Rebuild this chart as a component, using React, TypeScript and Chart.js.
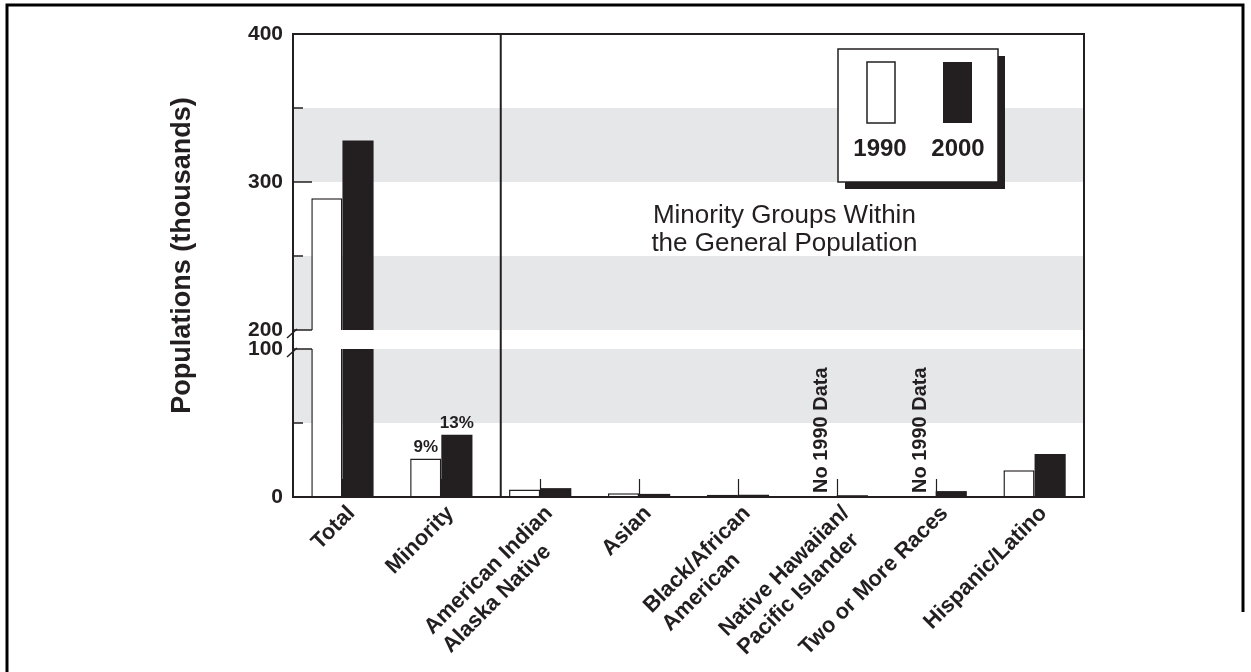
import React, { useEffect, useRef } from 'react';
import { Chart, registerables } from 'chart.js';

Chart.register(...registerables);

// ---------- data ----------
const categories: string[][] = [
  ['Total'],
  ['Minority'],
  ['American Indian', 'Alaska Native'],
  ['Asian'],
  ['Black/African', 'American'],
  ['Native Hawaiian/', 'Pacific Islander'],
  ['Two or More Races'],
  ['Hispanic/Latino'],
];
const seriesNames = ['1990', '2000'];
const values1990: (number | null)[] = [289, 26, 5, 2.5, 1.5, null, null, 18];
const values2000: (number | null)[] = [328, 42, 6, 2.1, 1.6, 1.2, 4, 29];
const percent1990: (string | null)[] = [null, '9%', null, null, null, null, null, null];
const percent2000: (string | null)[] = [null, '13%', null, null, null, null, null, null];
const noDataText = 'No 1990 Data';
const yTickValues = [0, 100, 200, 300, 400];
const yMinorTicks = [50, 250, 350];
const yMajorTicks = [100, 200, 300];
const shadedBands: [number, number][] = [[50, 100], [200, 250], [300, 350]];
const breakLow = 100;
const breakHigh = 200;
const yMaxValue = 400;
const annotationLines = ['Minority Groups Within', 'the General Population'];
const yTitle = 'Populations (thousands)';

// ---------- styles ----------
const DARK = '#231f20';
const GRAY = '#e6e7e8';
const FONT = '"Liberation Sans", Arial, Helvetica, sans-serif';
const GAP_UNITS = 12.84; // visual gap of the axis break, in display units

const toDisp = (v: number) => (v <= breakLow ? v : v - breakHigh + breakLow + GAP_UNITS);

const decorPlugin = {
  id: 'decor',
  beforeDatasetsDraw(chart: any) {
    const { ctx, chartArea: a, scales } = chart;
    const x = scales.x;
    const y = scales.y;
    ctx.save();
    ctx.fillStyle = GRAY;
    shadedBands.forEach(([lo, hi]) => {
      const top = y.getPixelForValue(toDisp(hi));
      const bot = y.getPixelForValue(toDisp(lo));
      ctx.fillRect(a.left, top, a.right - a.left, bot - top);
    });
    ctx.strokeStyle = DARK;
    ctx.lineWidth = 1.2;
    categories.forEach((_, i) => {
      const px = Math.round(x.getPixelForValue(i)) + 0.5;
      ctx.beginPath();
      ctx.moveTo(px, a.bottom);
      ctx.lineTo(px, a.bottom - 18);
      ctx.stroke();
    });
    ctx.restore();
  },
  afterDatasetsDraw(chart: any) {
    const { ctx, chartArea: a, scales } = chart;
    const x = scales.x;
    const y = scales.y;
    ctx.save();

    // axis break gap
    const gTop = y.getPixelForValue(toDisp(breakHigh));
    const gBot = y.getPixelForValue(toDisp(breakLow));
    ctx.fillStyle = '#ffffff';
    ctx.fillRect(a.left, gTop, a.right - a.left, gBot - gTop);

    // plot frame
    ctx.strokeStyle = DARK;
    ctx.lineWidth = 2;
    ctx.strokeRect(a.left, a.top, a.right - a.left, a.bottom - a.top);

    // divider between totals and groups
    const divX = (x.getPixelForValue(1) + x.getPixelForValue(2)) / 2 + 10;
    ctx.beginPath();
    ctx.moveTo(divX, a.top);
    ctx.lineTo(divX, a.bottom);
    ctx.stroke();

    // inner y ticks
    ctx.lineWidth = 1.5;
    yMinorTicks.forEach((v) => {
      const py = y.getPixelForValue(toDisp(v));
      ctx.beginPath();
      ctx.moveTo(a.left, py);
      ctx.lineTo(a.left + 10, py);
      ctx.stroke();
    });
    yMajorTicks.forEach((v) => {
      const py = y.getPixelForValue(toDisp(v));
      ctx.beginPath();
      ctx.moveTo(a.left, py);
      ctx.lineTo(a.left + 19, py);
      ctx.stroke();
    });
    [breakLow, breakHigh].forEach((v) => {
      const py = y.getPixelForValue(toDisp(v));
      ctx.beginPath();
      ctx.moveTo(a.left - 6, py + 8);
      ctx.lineTo(a.left + 4, py - 1);
      ctx.stroke();
    });

    // percentage labels
    ctx.fillStyle = DARK;
    ctx.font = `bold 17px ${FONT}`;
    ctx.textAlign = 'center';
    ctx.textBaseline = 'bottom';
    [percent1990, percent2000].forEach((labels, di) => {
      const meta = chart.getDatasetMeta(di);
      labels.forEach((t, i) => {
        if (!t) return;
        const el = meta.data[i];
        ctx.fillText(t, el.x, el.y - 3);
      });
    });

    // "No 1990 Data" labels
    ctx.font = `bold 20px ${FONT}`;
    ctx.textAlign = 'left';
    ctx.textBaseline = 'middle';
    values1990.forEach((v, i) => {
      if (v !== null) return;
      const px = x.getPixelForValue(i) - 15;
      ctx.save();
      ctx.translate(px, a.bottom - 4);
      ctx.rotate(-Math.PI / 2);
      ctx.fillText(noDataText, 0, 0);
      ctx.restore();
    });

    // annotation
    ctx.font = `26px ${FONT}`;
    ctx.textAlign = 'center';
    ctx.textBaseline = 'middle';
    const annX = (divX + a.right) / 2 - 8;
    annotationLines.forEach((t, i) => {
      ctx.fillText(t, annX, a.top + 182 + i * 28);
    });

    // legend box
    const bx = a.right - 246;
    const by = a.top + 15;
    const bw = 160;
    const bh = 133;
    ctx.fillStyle = DARK;
    ctx.fillRect(bx + 7, by + 7, bw, bh);
    ctx.fillStyle = '#ffffff';
    ctx.fillRect(bx, by, bw, bh);
    ctx.lineWidth = 1.5;
    ctx.strokeStyle = DARK;
    ctx.strokeRect(bx, by, bw, bh);
    const swX = [29, 105];
    const txX = [42, 120];
    seriesNames.forEach((name, i) => {
      if (i === 0) {
        ctx.fillStyle = '#ffffff';
        ctx.fillRect(bx + swX[i], by + 13, 28, 61);
        ctx.strokeRect(bx + swX[i], by + 13, 28, 61);
      } else {
        ctx.fillStyle = DARK;
        ctx.fillRect(bx + swX[i], by + 13, 29, 61);
      }
      ctx.fillStyle = DARK;
      ctx.font = `bold 24px ${FONT}`;
      ctx.textAlign = 'center';
      ctx.textBaseline = 'middle';
      ctx.fillText(name, bx + txX[i], by + 100);
    });

    // x category labels
    ctx.fillStyle = DARK;
    ctx.font = `bold 22px ${FONT}`;
    ctx.textBaseline = 'middle';
    categories.forEach((lines, i) => {
      const px = x.getPixelForValue(i);
      ctx.save();
      ctx.translate(px + 9, a.bottom + 13);
      ctx.rotate(-Math.PI / 4);
      const w1 = ctx.measureText(lines[0]).width;
      ctx.textAlign = 'right';
      ctx.fillText(lines[0], 0, 0);
      ctx.textAlign = 'left';
      for (let j = 1; j < lines.length; j++) {
        ctx.fillText(lines[j], -w1, j * 26);
      }
      ctx.restore();
    });

    // y title
    ctx.save();
    ctx.font = `bold 27px ${FONT}`;
    ctx.textAlign = 'center';
    ctx.textBaseline = 'middle';
    ctx.translate(a.left - 110, (a.top + a.bottom) / 2 - 10);
    ctx.rotate(-Math.PI / 2);
    ctx.fillText(yTitle, 0, 0);
    ctx.restore();

    // outer page frame
    ctx.strokeStyle = '#000000';
    ctx.lineWidth = 3;
    ctx.beginPath();
    ctx.moveTo(7, 672);
    ctx.lineTo(7, 5);
    ctx.lineTo(1243, 5);
    ctx.lineTo(1243, 612);
    ctx.stroke();

    ctx.restore();
  },
};

export default function App() {
  const canvasRef = useRef<HTMLCanvasElement | null>(null);

  useEffect(() => {
    const canvas = canvasRef.current;
    if (!canvas) return;
    const chart = new Chart(canvas, {
      type: 'bar',
      data: {
        labels: categories.map((c) => c.join(' ')),
        datasets: [
          {
            label: seriesNames[0],
            data: values1990.map((v) => (v === null ? null : toDisp(v))),
            backgroundColor: '#ffffff',
            borderColor: DARK,
            borderWidth: 1.5,
          },
          {
            label: seriesNames[1],
            data: values2000.map((v) => (v === null ? null : toDisp(v))),
            backgroundColor: DARK,
            borderColor: DARK,
            borderWidth: 0,
          },
        ],
      },
      options: {
        responsive: false,
        animation: false,
        layout: { padding: { left: 233, top: 34, right: 167, bottom: 175 } },
        datasets: { bar: { categoryPercentage: 0.63, barPercentage: 1 } },
        plugins: { legend: { display: false }, tooltip: { enabled: false } },
        scales: {
          x: { type: 'category', display: false, offset: true },
          y: {
            type: 'linear',
            min: 0,
            max: toDisp(yMaxValue),
            grid: { display: false, drawTicks: false },
            border: { display: false },
            afterBuildTicks: (scale: any) => {
              scale.ticks = yTickValues.map((v) => ({ value: toDisp(v) }));
            },
            afterFit: (scale: any) => {
              scale.width = 60;
            },
            ticks: {
              autoSkip: false,
              padding: 10,
              color: DARK,
              font: { family: FONT, size: 21, weight: 'bold' },
              callback: (_v: any, i: number) => String(yTickValues[i]),
            },
          },
        },
      },
      plugins: [decorPlugin],
    });
    return () => chart.destroy();
  }, []);

  return (
    <div style={{ position: 'fixed', left: 0, top: 0, width: 1251, height: 672, background: '#ffffff' }}>
      <canvas ref={canvasRef} width={1251} height={672} style={{ display: 'block' }} />
    </div>
  );
}
